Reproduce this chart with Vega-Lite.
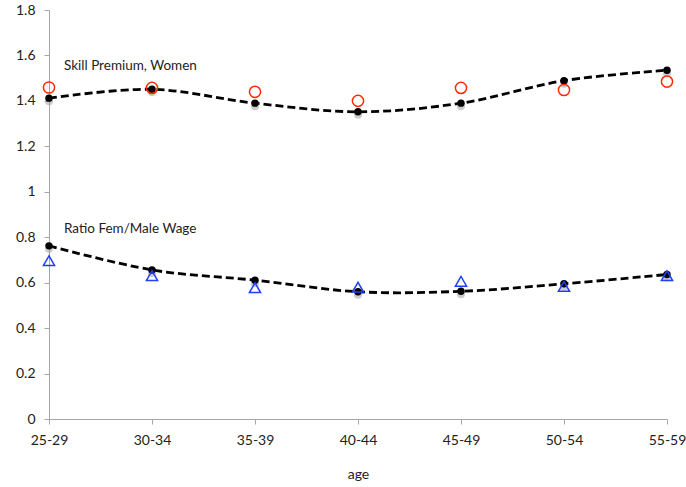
{
  "$schema": "https://vega.github.io/schema/vega-lite/v6.json",
  "width": 618,
  "height": 409,
  "autosize": "none",
  "padding": {"left": 49, "top": 10, "right": 19, "bottom": 68},
  "background": "white",
  "config": {
    "view": {"stroke": null},
    "font": "Lato",
    "axis": {
      "grid": false,
      "domainColor": "#a6a6a6",
      "tickColor": "#a6a6a6",
      "tickSize": 5,
      "labelFont": "Lato",
      "labelFontSize": 14,
      "labelColor": "#222222",
      "titleFont": "Lato",
      "titleFontWeight": "normal",
      "titleFontSize": 14,
      "titleColor": "#222222"
    }
  },
  "data": {
    "values": [
      {"age": "25-29", "series": "skill", "model": 1.412, "actual": 1.459},
      {"age": "30-34", "series": "skill", "model": 1.451, "actual": 1.457},
      {"age": "35-39", "series": "skill", "model": 1.39, "actual": 1.44},
      {"age": "40-44", "series": "skill", "model": 1.352, "actual": 1.4},
      {"age": "45-49", "series": "skill", "model": 1.39, "actual": 1.457},
      {"age": "50-54", "series": "skill", "model": 1.489, "actual": 1.448},
      {"age": "55-59", "series": "skill", "model": 1.535, "actual": 1.485},
      {"age": "25-29", "series": "ratio", "model": 0.762, "actual": 0.697},
      {"age": "30-34", "series": "ratio", "model": 0.656, "actual": 0.631},
      {"age": "35-39", "series": "ratio", "model": 0.611, "actual": 0.578},
      {"age": "40-44", "series": "ratio", "model": 0.56, "actual": 0.58},
      {"age": "45-49", "series": "ratio", "model": 0.562, "actual": 0.606},
      {"age": "50-54", "series": "ratio", "model": 0.595, "actual": 0.583},
      {"age": "55-59", "series": "ratio", "model": 0.636, "actual": 0.631}
    ]
  },
  "encoding": {
    "x": {
      "field": "age",
      "type": "ordinal",
      "scale": {"type": "point", "padding": 0},
      "axis": {"labelAngle": 0, "labelPadding": 9, "title": "age", "titlePadding": 20}
    }
  },
  "layer": [
    {
      "mark": {"type": "line", "interpolate": "cardinal", "color": "black", "strokeWidth": 2.8, "strokeDash": [8, 4]},
      "encoding": {
        "y": {
          "field": "model",
          "type": "quantitative",
          "scale": {"domain": [0, 1.8], "nice": false},
          "axis": {"values": [0, 0.2, 0.4, 0.6, 0.8, 1, 1.2, 1.4, 1.6, 1.8], "format": "~g", "title": null, "labelPadding": 9}
        },
        "detail": {"field": "series"}
      }
    },
    {
      "mark": {"type": "point", "filled": true, "color": "#9a9a9a", "opacity": 0.5, "size": 65, "yOffset": 3},
      "encoding": {"y": {"field": "model", "type": "quantitative"}}
    },
    {
      "mark": {"type": "point", "filled": true, "color": "black", "opacity": 1, "size": 55},
      "encoding": {"y": {"field": "model", "type": "quantitative"}}
    },
    {
      "mark": {"type": "point", "filled": false, "size": 125, "strokeWidth": 1.5, "opacity": 1},
      "encoding": {
        "y": {"field": "actual", "type": "quantitative"},
        "shape": {"field": "series", "type": "nominal", "scale": {"domain": ["skill", "ratio"], "range": ["circle", "triangle-up"]}, "legend": null},
        "color": {"field": "series", "type": "nominal", "scale": {"domain": ["skill", "ratio"], "range": ["#ff2a00", "#1f3fff"]}, "legend": null}
      }
    },
    {
      "data": {
        "values": [
          {"age": "25-29", "pos": 1.553, "label": "Skill Premium, Women"},
          {"age": "25-29", "pos": 0.834, "label": "Ratio Fem/Male Wage"}
        ]
      },
      "mark": {"type": "text", "align": "left", "baseline": "middle", "dx": 15, "fontSize": 13.5, "color": "#222222"},
      "encoding": {
        "y": {"field": "pos", "type": "quantitative"},
        "text": {"field": "label"}
      }
    }
  ]
}
